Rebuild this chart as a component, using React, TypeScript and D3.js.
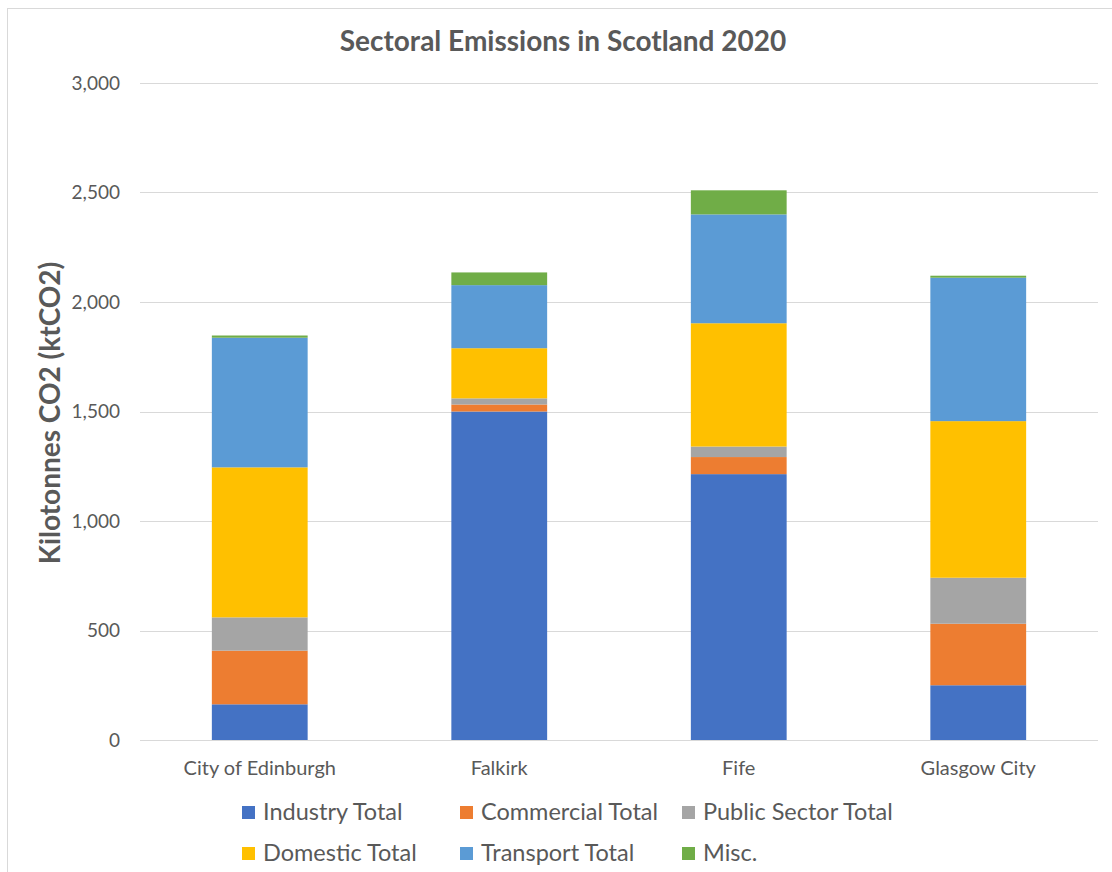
import React from "react";
import * as d3 from "d3";

const categories = ["City of Edinburgh", "Falkirk", "Fife", "Glasgow City"];
const seriesNames = [
  "Industry Total",
  "Commercial Total",
  "Public Sector Total",
  "Domestic Total",
  "Transport Total",
  "Misc.",
];
const industry = [163, 1500, 1214, 250];
const commercial = [245, 32, 78, 281];
const publicSector = [152, 28, 48, 210];
const domestic = [685, 229, 563, 715];
const transport = [592, 288, 497, 655];
const misc = [10, 58, 110, 9];
const yTicks = [0, 500, 1000, 1500, 2000, 2500, 3000];
const colors = ["#4472C4", "#ED7D31", "#A5A5A5", "#FFC000", "#5B9BD5", "#70AD47"];

const W = 1112;
const H = 872;
const plot = { left: 140, right: 1098, top: 83, bottom: 740 };
const FONT = "Lato, 'Open Sans', sans-serif";
const TEXT = "#595959";

export default function App() {
  const seriesValues = [industry, commercial, publicSector, domestic, transport, misc];
  const rows = categories.map((c, i) => {
    const r: Record<string, any> = { category: c };
    seriesNames.forEach((s, j) => (r[s] = seriesValues[j][i]));
    return r;
  });
  const stack = d3.stack<any>().keys(seriesNames)(rows);

  const x = d3
    .scaleBand<string>()
    .domain(categories)
    .range([plot.left, plot.right])
    .paddingInner(0.6)
    .paddingOuter(0.3);
  const y = d3.scaleLinear().domain([0, 3000]).range([plot.bottom, plot.top]);
  const fmt = d3.format(",");

  const legendCols = [243, 461, 683];
  const legendRows = [812, 853];

  return (
    <div style={{ position: "absolute", left: 0, top: 0 }}>
      <svg width={W} height={H} style={{ display: "block", background: "#fff" }}>
        <rect x={7.5} y={8.5} width={1120} height={900} fill="#fff" stroke="#d9d9d9" strokeWidth={1} />
        <text
          x={563}
          y={51}
          textAnchor="middle"
          fontFamily={FONT}
          fontWeight="bold"
          fontSize={28}
          fill={TEXT}
        >
          Sectoral Emissions in Scotland 2020
        </text>
        {yTicks.map((t) => (
          <g key={t}>
            <line
              x1={plot.left}
              x2={plot.right}
              y1={Math.round(y(t)) + 0.5}
              y2={Math.round(y(t)) + 0.5}
              stroke="#d9d9d9"
              strokeWidth={1}
            />
            <text
              x={120}
              y={y(t)}
              dy="0.35em"
              textAnchor="end"
              fontFamily={FONT}
              fontSize={19}
              fill={TEXT}
            >
              {fmt(t)}
            </text>
          </g>
        ))}
        <text
          transform={`translate(50,${413}) rotate(-90)`}
          textAnchor="middle"
          dy="0.35em"
          fontFamily={FONT}
          fontWeight="bold"
          fontSize={28}
          fill={TEXT}
        >
          Kilotonnes CO2 (ktCO2)
        </text>
        {stack.map((layer, si) => (
          <g key={layer.key} fill={colors[si]}>
            {layer.map((d, ci) => (
              <rect
                key={ci}
                x={x(categories[ci])}
                width={x.bandwidth()}
                y={y(d[1])}
                height={y(d[0]) - y(d[1])}
              />
            ))}
          </g>
        ))}
        {categories.map((c) => (
          <text
            key={c}
            x={(x(c) as number) + x.bandwidth() / 2}
            y={768}
            dy="0.35em"
            textAnchor="middle"
            fontFamily={FONT}
            fontSize={20}
            fill={TEXT}
          >
            {c}
          </text>
        ))}
        {seriesNames.map((s, i) => {
          const lx = legendCols[i % 3];
          const ly = legendRows[Math.floor(i / 3)];
          return (
            <g key={s}>
              <rect x={lx - 1} y={ly - 6} width={13} height={13} fill={colors[i]} />
              <text
                x={lx + 20}
                y={ly}
                dy="0.35em"
                fontFamily={FONT}
                fontSize={23.5}
                fill={TEXT}
              >
                {s}
              </text>
            </g>
          );
        })}
      </svg>
    </div>
  );
}
